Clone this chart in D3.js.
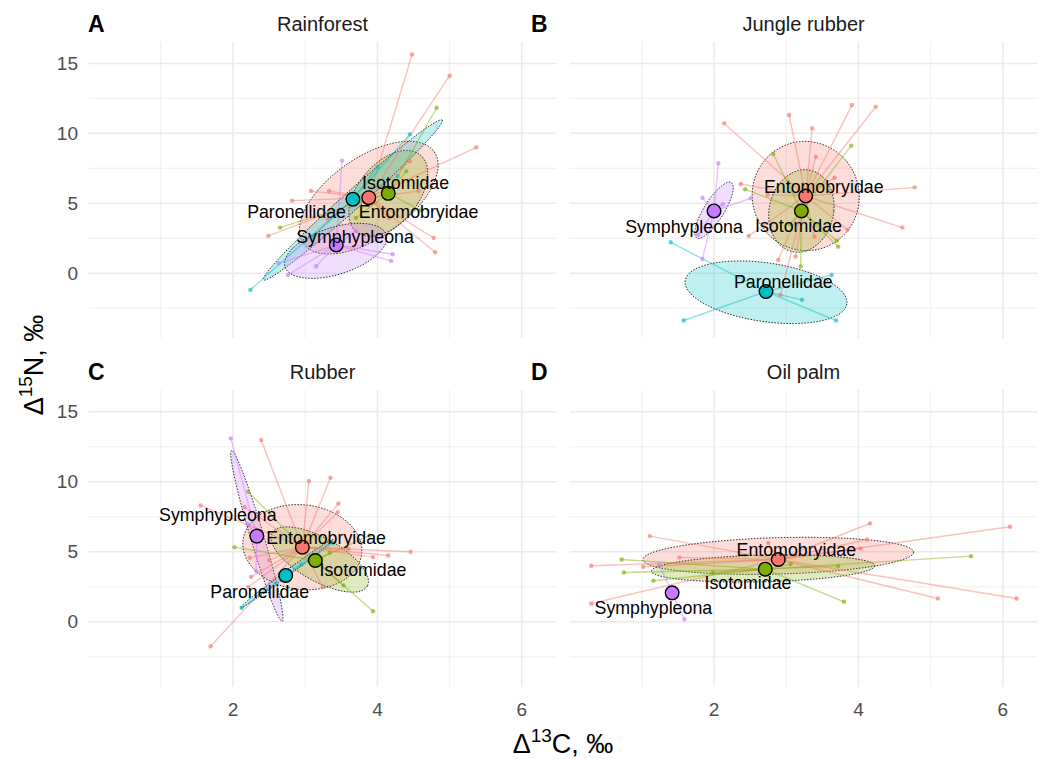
<!DOCTYPE html>
<html>
<head>
<meta charset="utf-8">
<script src="https://cdn.jsdelivr.net/npm/d3@7"></script>
<style>
  body { margin: 0; background: #fff; }
  svg { font-family: "Liberation Sans", Arial, sans-serif; }
</style>
</head>
<body>
<div id="container"></div>
<script>
/* DATA */
const habitats = ["Rainforest", "Jungle rubber", "Rubber", "Oil palm"];
const tags = ["A", "B", "C", "D"];
const families = ["Entomobryidae", "Isotomidae", "Paronellidae", "Symphypleona"];
const xTicks = [2, 4, 6], xMinor = [1, 3, 5];
const yTicks = [0, 5, 10, 15], yMinor = [-2.5, 2.5, 7.5, 12.5];

// individual samples: [habitat, family, d13C, d15N]
const samples = [
  ["Rainforest","Entomobryidae",4.48,15.64],["Rainforest","Entomobryidae",5.00,14.12],["Rainforest","Entomobryidae",5.37,9.00],
  ["Rainforest","Entomobryidae",4.57,5.88],["Rainforest","Entomobryidae",4.78,2.52],["Rainforest","Entomobryidae",4.80,1.50],
  ["Rainforest","Entomobryidae",3.08,5.88],["Rainforest","Entomobryidae",3.33,5.88],["Rainforest","Entomobryidae",2.82,5.19],
  ["Rainforest","Entomobryidae",2.49,2.67],["Rainforest","Entomobryidae",3.31,3.88],["Rainforest","Entomobryidae",4.45,8.00],
  ["Rainforest","Entomobryidae",4.16,3.94],
  ["Rainforest","Isotomidae",4.82,11.83],["Rainforest","Isotomidae",2.65,3.26],["Rainforest","Isotomidae",3.70,3.95],
  ["Rainforest","Isotomidae",4.60,4.50],["Rainforest","Isotomidae",4.40,7.30],
  ["Rainforest","Paronellidae",2.24,-1.19],["Rainforest","Paronellidae",4.45,9.93],["Rainforest","Paronellidae",4.28,6.95],
  ["Rainforest","Paronellidae",3.10,2.60],["Rainforest","Paronellidae",4.00,7.60],
  ["Rainforest","Symphypleona",3.51,8.05],["Rainforest","Symphypleona",4.21,1.36],["Rainforest","Symphypleona",4.19,0.88],
  ["Rainforest","Symphypleona",3.15,0.50],["Rainforest","Symphypleona",2.76,-0.12],["Rainforest","Symphypleona",2.63,0.71],
  ["Rainforest","Symphypleona",3.70,3.00],

  ["Jungle rubber","Entomobryidae",2.14,10.71],["Jungle rubber","Entomobryidae",3.04,11.31],["Jungle rubber","Entomobryidae",3.36,10.36],
  ["Jungle rubber","Entomobryidae",3.91,12.02],["Jungle rubber","Entomobryidae",4.24,11.90],["Jungle rubber","Entomobryidae",3.41,8.33],
  ["Jungle rubber","Entomobryidae",3.67,6.83],["Jungle rubber","Entomobryidae",4.78,6.14],["Jungle rubber","Entomobryidae",4.61,3.26],
  ["Jungle rubber","Entomobryidae",2.37,6.38],["Jungle rubber","Entomobryidae",2.48,2.67],["Jungle rubber","Entomobryidae",3.85,3.10],
  ["Jungle rubber","Entomobryidae",3.13,1.19],["Jungle rubber","Entomobryidae",3.39,2.62],["Jungle rubber","Entomobryidae",2.89,0.95],
  ["Jungle rubber","Entomobryidae",2.92,-1.55],["Jungle rubber","Entomobryidae",2.74,5.60],
  ["Jungle rubber","Isotomidae",2.82,8.52],["Jungle rubber","Isotomidae",3.90,9.12],["Jungle rubber","Isotomidae",2.43,6.00],
  ["Jungle rubber","Isotomidae",3.70,2.33],["Jungle rubber","Isotomidae",3.72,1.90],["Jungle rubber","Isotomidae",3.20,0.48],
  ["Jungle rubber","Isotomidae",3.05,3.50],
  ["Jungle rubber","Symphypleona",2.06,7.86],["Jungle rubber","Symphypleona",1.84,5.40],["Jungle rubber","Symphypleona",2.51,5.36],
  ["Jungle rubber","Symphypleona",2.12,4.93],["Jungle rubber","Symphypleona",1.78,2.74],["Jungle rubber","Symphypleona",1.84,1.02],
  ["Jungle rubber","Paronellidae",1.40,2.21],["Jungle rubber","Paronellidae",1.58,-3.38],["Jungle rubber","Paronellidae",3.69,-3.38],
  ["Jungle rubber","Paronellidae",3.22,-1.90],["Jungle rubber","Paronellidae",3.63,-0.12],

  ["Rubber","Entomobryidae",2.39,12.98],["Rubber","Entomobryidae",3.05,10.05],["Rubber","Entomobryidae",3.35,10.29],
  ["Rubber","Entomobryidae",3.46,8.45],["Rubber","Entomobryidae",3.45,7.83],["Rubber","Entomobryidae",1.55,8.31],
  ["Rubber","Entomobryidae",2.16,8.20],["Rubber","Entomobryidae",4.46,5.00],["Rubber","Entomobryidae",4.15,4.74],
  ["Rubber","Entomobryidae",3.94,4.62],["Rubber","Entomobryidae",2.23,4.57],["Rubber","Entomobryidae",2.25,3.21],
  ["Rubber","Entomobryidae",1.69,-1.74],["Rubber","Entomobryidae",3.24,2.48],["Rubber","Entomobryidae",2.21,2.48],
  ["Rubber","Entomobryidae",3.60,5.20],["Rubber","Entomobryidae",2.50,4.40],
  ["Rubber","Isotomidae",2.21,9.29],["Rubber","Isotomidae",2.02,5.33],["Rubber","Isotomidae",3.94,0.76],
  ["Rubber","Isotomidae",3.53,2.60],["Rubber","Isotomidae",3.34,4.93],["Rubber","Isotomidae",3.89,6.17],
  ["Rubber","Symphypleona",1.97,13.10],["Rubber","Symphypleona",2.32,3.62],["Rubber","Symphypleona",2.20,7.00],
  ["Rubber","Paronellidae",2.12,1.00],["Rubber","Paronellidae",3.39,5.64],["Rubber","Paronellidae",2.95,4.10],

  ["Oil palm","Entomobryidae",4.16,7.02],["Oil palm","Entomobryidae",6.10,6.79],["Oil palm","Entomobryidae",1.11,6.12],
  ["Oil palm","Entomobryidae",0.30,4.00],["Oil palm","Entomobryidae",0.30,1.31],["Oil palm","Entomobryidae",5.10,1.67],
  ["Oil palm","Entomobryidae",6.19,1.67],["Oil palm","Entomobryidae",2.75,5.64],["Oil palm","Entomobryidae",4.12,5.88],
  ["Oil palm","Entomobryidae",4.03,5.24],["Oil palm","Entomobryidae",1.52,4.60],["Oil palm","Entomobryidae",1.02,3.93],
  ["Oil palm","Isotomidae",0.72,4.45],["Oil palm","Isotomidae",0.75,3.52],["Oil palm","Isotomidae",1.16,2.93],
  ["Oil palm","Isotomidae",5.56,4.69],["Oil palm","Isotomidae",3.80,1.43],["Oil palm","Isotomidae",3.72,3.98],
  ["Oil palm","Isotomidae",3.06,4.12],["Oil palm","Isotomidae",1.98,3.52],
  ["Oil palm","Symphypleona",1.24,4.10],["Oil palm","Symphypleona",1.59,0.19]
];

// group centroids: [habitat, family, d13C, d15N]
const centroids = [
  ["Rainforest","Paronellidae",3.66,5.29],["Rainforest","Entomobryidae",3.88,5.40],
  ["Rainforest","Isotomidae",4.15,5.71],["Rainforest","Symphypleona",3.43,2.02],
  ["Jungle rubber","Entomobryidae",3.27,5.52],["Jungle rubber","Isotomidae",3.21,4.45],
  ["Jungle rubber","Symphypleona",2.00,4.45],["Jungle rubber","Paronellidae",2.72,-1.31],
  ["Rubber","Symphypleona",2.33,6.12],["Rubber","Entomobryidae",2.96,5.33],
  ["Rubber","Isotomidae",3.14,4.38],["Rubber","Paronellidae",2.73,3.31],
  ["Oil palm","Entomobryidae",2.89,4.45],["Oil palm","Isotomidae",2.71,3.76],
  ["Oil palm","Symphypleona",1.42,2.07]
];

// standard ellipses: [habitat, family, cx, cy, axis1 dx, dy, axis2 dx, dy]
const ellipses = [
  ["Rainforest","Entomobryidae",3.88,5.40,0.907,3.28,0.317,-2.34],
  ["Rainforest","Isotomidae",4.15,5.71,0.445,2.74,0.318,-1.38],
  ["Rainforest","Paronellidae",3.66,5.24,1.237,5.71,0.085,-0.48],
  ["Rainforest","Symphypleona",3.42,1.60,0.70,1.15,0.10,-1.60],
  ["Jungle rubber","Entomobryidae",3.27,5.52,0.74,0.20,-0.05,3.90],
  ["Jungle rubber","Isotomidae",3.21,4.45,0.45,0.00,0.05,2.95],
  ["Jungle rubber","Symphypleona",2.00,4.50,0.24,1.98,0.117,-0.38],
  ["Jungle rubber","Paronellidae",2.72,-1.36,1.12,-0.83,-0.058,-2.08],
  ["Rubber","Symphypleona",2.33,6.14,0.351,-6.10,0.089,0.136],
  ["Rubber","Entomobryidae",2.96,5.33,0.80,0.50,-0.20,3.00],
  ["Rubber","Isotomidae",3.20,4.45,0.66,-1.90,-0.146,-1.35],
  ["Rubber","Paronellidae",2.74,3.43,0.642,2.45,0.022,-0.153],
  ["Oil palm","Entomobryidae",2.89,4.71,1.875,0.26,0.00,-1.30],
  ["Oil palm","Isotomidae",2.68,3.81,1.547,0.19,0.00,-0.95]
];

// label anchor positions: [habitat, family, d13C, d15N]
const labels = [
  ["Rainforest","Isotomidae",4.39,6.43],["Rainforest","Paronellidae",2.88,4.40],
  ["Rainforest","Entomobryidae",4.57,4.40],["Rainforest","Symphypleona",3.69,2.62],
  ["Jungle rubber","Entomobryidae",3.52,6.19],["Jungle rubber","Isotomidae",3.17,3.40],
  ["Jungle rubber","Symphypleona",1.585,3.27],["Jungle rubber","Paronellidae",2.96,-0.60],
  ["Rubber","Symphypleona",1.79,7.60],["Rubber","Entomobryidae",3.29,6.00],
  ["Rubber","Isotomidae",3.80,3.69],["Rubber","Paronellidae",2.37,2.12],
  ["Oil palm","Entomobryidae",3.14,5.12],["Oil palm","Isotomidae",2.47,2.79],
  ["Oil palm","Symphypleona",1.16,1.02]
];

/* SETUP */
const width = 1042, height = 759;
const color = d3.scaleOrdinal()
  .domain(families)
  .range(["#F8766D", "#7CAE00", "#00BFC4", "#C77CFF"]);

const xDomain = [0, 6.48], yDomain = [-4.63, 16.55];
const xLeft = [88.6, 556.5], xRight = [569.6, 1037.5];
const yTop = [338, 41.7], yBottom = [686.7, 390];

const panels = habitats.map((h, i) => ({
  habitat: h,
  tag: tags[i],
  col: i % 2,
  row: Math.floor(i / 2),
  x: d3.scaleLinear().domain(xDomain).range(i % 2 ? xRight : xLeft),
  y: d3.scaleLinear().domain(yDomain).range(i < 2 ? yTop : yBottom)
}));

const svg = d3.select("#container").append("svg")
  .attr("width", width)
  .attr("height", height);

panels.forEach(p => drawPanel(p));

function drawPanel(p) {
  const g = svg.append("g");
  const [x0, x1] = p.x.range(), [y0, y1] = p.y.range();

  // gridlines
  g.selectAll("line.xminor").data(xMinor).join("line")
    .attr("x1", d => p.x(d)).attr("x2", d => p.x(d))
    .attr("y1", y1).attr("y2", y0)
    .attr("stroke", "#EBEBEB").attr("stroke-width", 0.8);
  g.selectAll("line.yminor").data(yMinor).join("line")
    .attr("y1", d => p.y(d)).attr("y2", d => p.y(d))
    .attr("x1", x0).attr("x2", x1)
    .attr("stroke", "#EBEBEB").attr("stroke-width", 0.8);
  g.selectAll("line.xmajor").data(xTicks).join("line")
    .attr("x1", d => p.x(d)).attr("x2", d => p.x(d))
    .attr("y1", y1).attr("y2", y0)
    .attr("stroke", "#EBEBEB").attr("stroke-width", 1.5);
  g.selectAll("line.ymajor").data(yTicks).join("line")
    .attr("y1", d => p.y(d)).attr("y2", d => p.y(d))
    .attr("x1", x0).attr("x2", x1)
    .attr("stroke", "#EBEBEB").attr("stroke-width", 1.5);

  // tick labels
  if (p.col === 0) {
    g.selectAll("text.ytick").data(yTicks).join("text")
      .attr("x", 78).attr("y", d => p.y(d))
      .attr("text-anchor", "end").attr("dominant-baseline", "central")
      .attr("font-size", "19px").attr("fill", "#4D4D4D")
      .text(d => d);
  }
  if (p.row === 1) {
    g.selectAll("text.xtick").data(xTicks).join("text")
      .attr("x", d => p.x(d)).attr("y", 709)
      .attr("text-anchor", "middle").attr("dominant-baseline", "central")
      .attr("font-size", "19px").attr("fill", "#4D4D4D")
      .text(d => d);
  }

  // strip title and tag
  g.append("text")
    .attr("x", (x0 + x1) / 2).attr("y", y1 - 18)
    .attr("text-anchor", "middle").attr("dominant-baseline", "central")
    .attr("font-size", "20px").attr("fill", "#1A1A1A")
    .text(p.habitat);
  g.append("text")
    .attr("x", p.col === 0 ? 88 : 531).attr("y", y1 - 18)
    .attr("dominant-baseline", "central")
    .attr("font-size", "23px").attr("font-weight", "bold")
    .text(p.tag);

  const pts = samples.filter(d => d[0] === p.habitat);
  const cents = centroids.filter(d => d[0] === p.habitat);
  const cent = new Map(cents.map(d => [d[1], d]));

  // ellipses
  const ts = d3.range(0, 2 * Math.PI, Math.PI / 60);
  const ell = d3.line().curve(d3.curveLinearClosed);
  g.selectAll("path.ell")
    .data(ellipses.filter(d => d[0] === p.habitat))
    .join("path")
    .attr("d", e => ell(ts.map(t => [
      p.x(e[2] + Math.cos(t) * e[4] + Math.sin(t) * e[6]),
      p.y(e[3] + Math.cos(t) * e[5] + Math.sin(t) * e[7])
    ])))
    .attr("fill", e => color(e[1])).attr("fill-opacity", 0.25)
    .attr("stroke", "#000").attr("stroke-opacity", 0.8)
    .attr("stroke-width", 1).attr("stroke-dasharray", "1.5,1.5");

  // spider segments
  g.selectAll("line.seg").data(pts).join("line")
    .attr("x1", d => p.x(cent.get(d[1])[2])).attr("y1", d => p.y(cent.get(d[1])[3]))
    .attr("x2", d => p.x(d[2])).attr("y2", d => p.y(d[3]))
    .attr("stroke", d => color(d[1])).attr("stroke-opacity", 0.45)
    .attr("stroke-width", 1.4);

  // samples
  g.selectAll("circle.pt").data(pts).join("circle")
    .attr("cx", d => p.x(d[2])).attr("cy", d => p.y(d[3]))
    .attr("r", 2.2)
    .attr("fill", d => color(d[1])).attr("fill-opacity", 0.65);

  // centroids
  g.selectAll("circle.cent").data(cents).join("circle")
    .attr("cx", d => p.x(d[2])).attr("cy", d => p.y(d[3]))
    .attr("r", 6.8)
    .attr("fill", d => color(d[1]))
    .attr("stroke", "#000").attr("stroke-width", 1.4);

  // family labels
  g.selectAll("text.lab")
    .data(labels.filter(d => d[0] === p.habitat))
    .join("text")
    .attr("x", d => p.x(d[2])).attr("y", d => p.y(d[3]))
    .attr("text-anchor", "middle").attr("dominant-baseline", "central")
    .attr("font-size", "17.8px").attr("fill", "#000")
    .text(d => d[1]);
}

/* AXIS TITLES */
const xt = svg.append("text")
  .attr("x", 563).attr("y", 753)
  .attr("text-anchor", "middle")
  .attr("font-size", "27px").attr("fill", "#000");
xt.append("tspan").text("\u0394");
xt.append("tspan").attr("dy", -11).attr("font-size", "19px").text("13");
xt.append("tspan").attr("dy", 11).text("C, \u2030");

const yt = svg.append("text")
  .attr("transform", "translate(43,365) rotate(-90)")
  .attr("text-anchor", "middle")
  .attr("font-size", "27px").attr("fill", "#000");
yt.append("tspan").text("\u0394");
yt.append("tspan").attr("dy", -11).attr("font-size", "19px").text("15");
yt.append("tspan").attr("dy", 11).text("N, \u2030");
</script>
</body>
</html>
